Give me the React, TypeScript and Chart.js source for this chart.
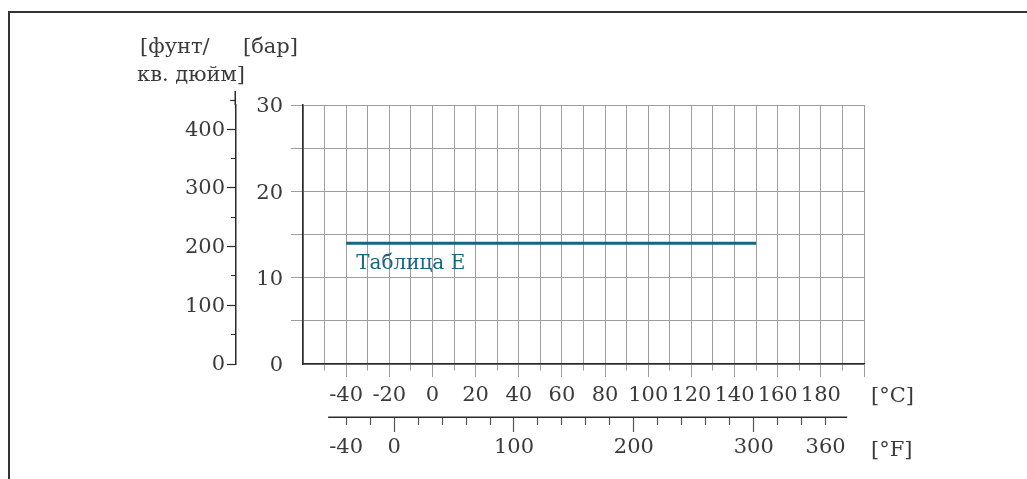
import React, { useEffect, useRef } from 'react';
import { Chart, registerables } from 'chart.js';

Chart.register(...registerables);

// ---- data ----
const SERIES_LABEL = 'Таблица E';
const SERIES_TEMP_C = [-40, 150];
const SERIES_PRESSURE_BAR = [14, 14];

const C_TICKS = [-60, -50, -40, -30, -20, -10, 0, 10, 20, 30, 40, 50, 60, 70, 80, 90, 100, 110, 120, 130, 140, 150, 160, 170, 180, 190, 200];
const C_LABELS = [-40, -20, 0, 20, 40, 60, 80, 100, 120, 140, 160, 180];
const F_TICKS = [-40, -20, 0, 20, 40, 60, 80, 100, 120, 140, 160, 180, 200, 220, 240, 260, 280, 300, 320, 340, 360];
const F_LABELS = [-40, 0, 100, 200, 300, 360];
const BAR_TICKS = [0, 2.5, 5, 7.5, 10, 12.5, 15, 17.5, 20, 22.5, 25, 27.5, 30];
const BAR_LABELS = [0, 10, 20, 30];
const PSI_TICKS = [0, 50, 100, 150, 200, 250, 300, 350, 400];
const PSI_LABELS = [0, 100, 200, 300, 400];

const UNIT_PSI = ['[фунт/', 'кв. дюйм]'];
const UNIT_BAR = '[бар]';
const UNIT_C = '[°C]';
const UNIT_F = '[°F]';

// ---- styles ----
const FONT_FAMILY = "'DejaVu Serif', serif";
const FONT_SIZE = 21;
const TEXT = '#3a3a3a';
const GRID = '#9e9e9e';
const AXIS = '#2a2a2a';
const TEAL = '#17657f';

const inList = (list: number[], v: number) => list.some((t) => Math.abs(t - v) < 1e-9);

const frameAndExtrasPlugin = {
  id: 'extras',
  beforeDraw(chart: any) {
    const { ctx } = chart;
    ctx.save();
    ctx.fillStyle = '#ffffff';
    ctx.fillRect(0, 0, chart.width, chart.height);
    ctx.fillStyle = '#333333';
    ctx.fillRect(8, 11, chart.width - 8, 2);
    ctx.fillRect(8, 11, 2, chart.height - 11);
    ctx.restore();
  },
  afterDraw(chart: any) {
    const { ctx, chartArea } = chart;
    const xs = chart.scales.x;
    const ys = chart.scales.y;
    const psi = chart.scales.psi;
    const fs = chart.scales.f;
    ctx.save();
    // psi axis continues above the grid, with a minor tick at 450
    ctx.strokeStyle = AXIS;
    ctx.lineWidth = 1.5;
    const px = Math.round(psi.right) - 0.75;
    ctx.beginPath();
    ctx.moveTo(px, chartArea.top);
    ctx.lineTo(px, psi.getPixelForValue(465));
    ctx.stroke();
    ctx.lineWidth = 1.2;
    const t450 = Math.round(psi.getPixelForValue(450)) + 0.5;
    ctx.beginPath();
    ctx.moveTo(px - 5, t450);
    ctx.lineTo(px, t450);
    ctx.stroke();
    // Fahrenheit axis line
    ctx.lineWidth = 1.5;
    const fy = Math.round(fs.top) + 0.25;
    ctx.beginPath();
    ctx.moveTo(fs.getPixelForValue(-55), fy);
    ctx.lineTo(fs.getPixelForValue(378), fy);
    ctx.stroke();

    // unit texts
    ctx.fillStyle = TEXT;
    ctx.font = `${FONT_SIZE}px ${FONT_FAMILY}`;
    ctx.textAlign = 'left';
    ctx.textBaseline = 'alphabetic';
    ctx.fillText(UNIT_PSI[0], 140, chartArea.top - 52);
    ctx.fillText(UNIT_PSI[1], 137, chartArea.top - 24);
    ctx.fillText(UNIT_BAR, ys.left + 7, chartArea.top - 52);
    ctx.fillText(UNIT_C, chartArea.right + 7, xs.top + 38);
    ctx.fillText(UNIT_F, chartArea.right + 7, fs.top + 39);

    // series label
    ctx.fillStyle = TEAL;
    ctx.font = `20px ${FONT_FAMILY}`;
    ctx.fillText(SERIES_LABEL, xs.getPixelForValue(SERIES_TEMP_C[0]) + 10, ys.getPixelForValue(SERIES_PRESSURE_BAR[0]) + 26);
    ctx.restore();
  },
};

export default function App() {
  const ref = useRef<HTMLCanvasElement | null>(null);

  useEffect(() => {
    document.documentElement.style.overflow = 'hidden';
    document.body.style.overflow = 'hidden';
    if (!ref.current) return;
    const font = { family: FONT_FAMILY, size: FONT_SIZE };
    const chart = new Chart(ref.current, {
      type: 'line',
      data: {
        datasets: [
          {
            label: SERIES_LABEL,
            data: SERIES_TEMP_C.map((t, i) => ({ x: t, y: SERIES_PRESSURE_BAR[i] })),
            borderColor: TEAL,
            borderWidth: 3,
            pointRadius: 0,
            borderCapStyle: 'butt',
            xAxisID: 'x',
            yAxisID: 'y',
          },
        ],
      },
      options: {
        animation: false,
        responsive: false,
        layout: { padding: { left: 100, right: 163, top: 105, bottom: 17 } },
        plugins: { legend: { display: false }, tooltip: { enabled: false } },
        scales: {
          x: {
            type: 'linear',
            position: 'bottom',
            weight: 0,
            min: -60,
            max: 200,
            afterBuildTicks: (s: any) => {
              s.ticks = C_TICKS.map((v) => ({ value: v }));
            },
            afterFit: (s: any) => {
              s.height = 53;
            },
            grid: {
              color: GRID,
              lineWidth: 1,
              tickLength: 13,
              tickColor: (c: any) => (c.tick && c.tick.value === -60 ? 'rgba(0,0,0,0)' : GRID),
              tickBorderDash: (c: any) => (c.tick && c.tick.value % 20 === 0 ? [] : [6, 100]),
            },
            border: { color: AXIS, width: 1.5 },
            ticks: {
              autoSkip: false,
              maxRotation: 0,
              minRotation: 0,
              padding: 6,
              color: TEXT,
              font,
              callback: (v: any) => (inList(C_LABELS, Number(v)) ? String(v) : ''),
            },
          },
          f: {
            type: 'linear',
            position: 'bottom',
            weight: 1,
            min: -76,
            max: 392,
            afterBuildTicks: (s: any) => {
              s.ticks = F_TICKS.map((v) => ({ value: v }));
            },
            afterFit: (s: any) => {
              s.height = 45;
            },
            grid: {
              drawOnChartArea: false,
              tickLength: 15,
              tickColor: '#555555',
              tickWidth: 1.2,
              tickBorderDash: (c: any) => (c.tick && c.tick.value % 100 === 0 ? [] : [8, 100]),
            },
            border: { display: false },
            ticks: {
              autoSkip: false,
              maxRotation: 0,
              minRotation: 0,
              padding: 3,
              color: TEXT,
              font,
              callback: (v: any) => (inList(F_LABELS, Number(v)) ? String(v) : ''),
            },
          },
          y: {
            type: 'linear',
            position: 'left',
            weight: 0,
            min: 0,
            max: 30,
            afterBuildTicks: (s: any) => {
              s.ticks = BAR_TICKS.map((v) => ({ value: v }));
            },
            afterFit: (s: any) => {
              s.width = 67;
            },
            grid: {
              color: GRID,
              lineWidth: 1,
              tickLength: 12,
              tickColor: (c: any) => (c.tick && c.tick.value === 0 ? 'rgba(0,0,0,0)' : GRID),
              tickBorderDash: (c: any) => (c.tick && c.tick.value % 5 === 0 ? [] : [0, 6, 6, 100]),
            },
            border: { color: AXIS, width: 1.5 },
            ticks: {
              padding: 8,
              color: TEXT,
              font,
              labelOffset: 2,
              callback: (v: any) => (inList(BAR_LABELS, Number(v)) ? String(v) : ''),
            },
          },
          psi: {
            type: 'linear',
            position: 'left',
            weight: 1,
            min: 0,
            max: 441,
            afterBuildTicks: (s: any) => {
              s.ticks = PSI_TICKS.map((v) => ({ value: v }));
            },
            afterFit: (s: any) => {
              s.width = 136;
            },
            grid: {
              drawOnChartArea: false,
              tickLength: 9,
              tickColor: AXIS,
              tickWidth: 1.2,
              tickBorderDash: (c: any) => (c.tick && c.tick.value % 100 === 0 ? [] : [0, 4, 5, 100]),
            },
            border: { color: AXIS, width: 1.5 },
            ticks: {
              padding: 2,
              color: TEXT,
              font,
              labelOffset: 1,
              callback: (v: any) => (inList(PSI_LABELS, Number(v)) ? String(v) : ''),
            },
          },
        },
      } as any,
      plugins: [frameAndExtrasPlugin],
    });
    return () => chart.destroy();
  }, []);

  return (
    <div style={{ position: 'fixed', left: 0, top: 0, width: 1027, height: 479, overflow: 'hidden', background: '#fff' }}>
      <canvas ref={ref} width={1027} height={479} style={{ position: 'absolute', left: 0, top: 0, width: 1027, height: 479 }} />
    </div>
  );
}
